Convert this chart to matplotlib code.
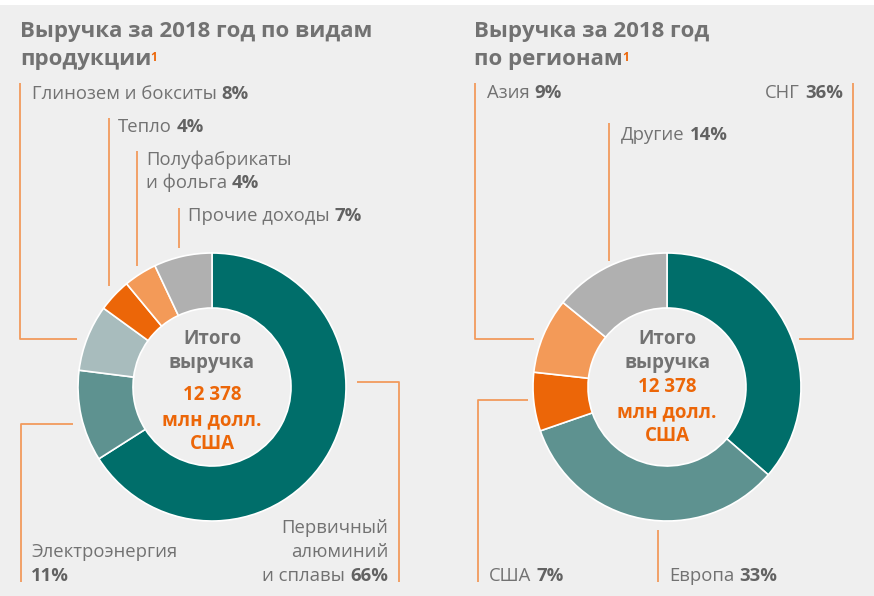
import matplotlib.pyplot as plt
from matplotlib.patches import Rectangle

plt.rcParams['font.family'] = ['Open Sans', 'DejaVu Sans']

# --- data ---
product_labels = ['Первичный алюминий и сплавы', 'Электроэнергия', 'Глинозем и бокситы',
                  'Тепло', 'Полуфабрикаты и фольга', 'Прочие доходы']
product_share = [66, 11, 8, 4, 4, 7]
region_labels = ['СНГ', 'Европа', 'США', 'Азия', 'Другие']
region_share = [36, 33, 7, 9, 14]
total_revenue = '12 378'

product_colors = ['#006e6a', '#5e9290', '#a8bcbd', '#ec6608', '#f39a58', '#b0b0b0']
region_colors = ['#006e6a', '#5e9290', '#ec6608', '#f39a58', '#b0b0b0']

BG = '#efefef'
GRAY = '#727272'
DARK = '#626262'
ORANGE = '#ec6608'
LINE = '#f29a5c'
FS = 13.3

W, H = 874, 596
fig = plt.figure(figsize=(W / 100, H / 100), dpi=100)
fig.patch.set_facecolor(BG)
fig.patches.append(Rectangle((0, 1 - 5 / H), 1, 5 / H, transform=fig.transFigure,
                             facecolor='white', edgecolor='none'))

R_OUT, R_IN = 134, 79


def donut(cx, cy, values, colors):
    ax = fig.add_axes([(cx - R_OUT) / W, (H - cy - R_OUT) / H, 2 * R_OUT / W, 2 * R_OUT / H])
    ax.pie(values, colors=colors, startangle=90, counterclock=False, radius=1,
           wedgeprops=dict(width=1 - R_IN / R_OUT, edgecolor='white', linewidth=1.2))
    ax.set_xlim(-1, 1)
    ax.set_ylim(-1, 1)
    ax.set_aspect('equal')
    ax.axis('off')
    return ax


donut(212, 387, product_share, product_colors)
donut(667, 387, region_share, region_colors)

# overlay in pixel coords
ov = fig.add_axes([0, 0, 1, 1])
ov.set_xlim(0, W)
ov.set_ylim(H, 0)
ov.axis('off')
ov.patch.set_alpha(0)


def label(x, y, name, pct, ha='left', size=FS):
    # name in regular, percent in bold
    if ha == 'left':
        t = ov.text(x, y, name, ha='left', va='center', fontsize=size, color=GRAY)
        ov.annotate(pct, xy=(1, 0), xycoords=t, xytext=(3.5, 0), textcoords='offset points',
                    ha='left', va='bottom', fontsize=size, color=DARK, fontweight='bold')
    else:
        t = ov.text(x, y, pct, ha='right', va='center', fontsize=size, color=DARK,
                    fontweight='bold')
        ov.annotate(name, xy=(0, 0), xycoords=t, xytext=(-3.5, 0), textcoords='offset points',
                    ha='right', va='bottom', fontsize=size, color=GRAY)


def leader(xs, ys):
    ov.plot(xs, ys, color=LINE, lw=1.3, solid_capstyle='butt')


def title(x, y1, y2, line1, line2):
    ov.text(x, y1, line1, ha='left', va='center', fontsize=16, fontweight='bold', color=GRAY)
    t = ov.text(x, y2, line2, ha='left', va='center', fontsize=16, fontweight='bold', color=GRAY)
    ov.annotate('1', xy=(1, 1), xycoords=t, xytext=(-0.5, -1.5), textcoords='offset points',
                ha='left', va='top', fontsize=8.5, fontweight='bold', color=ORANGE)


def center(cx, ys):
    lines = ['Итого', 'выручка', total_revenue, 'млн долл.', 'США']
    colors = [GRAY, GRAY, ORANGE, ORANGE, ORANGE]
    for s, y, c in zip(lines, ys, colors):
        ov.text(cx, y, s, ha='center', va='center', fontsize=13.5, fontweight='bold', color=c)


# ---- left chart ----
title(20, 31, 59, 'Выручка за 2018 год по видам', 'продукции')
center(212, [339, 363, 395, 420, 444])

leader([20, 20, 77], [83, 339, 339])
label(32, 94, product_labels[2], f'{product_share[2]}%')
leader([109, 109], [118, 286])
label(118, 127, product_labels[3], f'{product_share[3]}%')
leader([137, 137], [151, 266])
ov.text(146, 160, 'Полуфабрикаты', ha='left', va='center', fontsize=FS, color=GRAY)
label(146, 183, 'и фольга', f'{product_share[4]}%')
leader([179, 179], [208, 248])
label(188, 216, product_labels[5], f'{product_share[5]}%')

leader([73, 21, 21], [424, 424, 582])
ov.text(31, 552, product_labels[1], ha='left', va='center', fontsize=FS, color=GRAY)
ov.text(31, 576, f'{product_share[1]}%', ha='left', va='center', fontsize=FS,
        fontweight='bold', color=DARK)

leader([357, 399, 399], [382, 382, 582])
ov.text(388, 528, 'Первичный', ha='right', va='center', fontsize=FS, color=GRAY)
ov.text(388, 552, 'алюминий', ha='right', va='center', fontsize=FS, color=GRAY)
label(388, 576, 'и сплавы', f'{product_share[0]}%', ha='right')

# ---- right chart ----
title(474, 31, 59, 'Выручка за 2018 год', 'по регионам')
center(667, [339, 363, 387, 412, 436])

leader([475, 475, 534], [83, 339, 339])
label(487, 93, region_labels[3], f'{region_share[3]}%')
leader([853, 853, 799], [83, 339, 339])
label(843, 93, region_labels[0], f'{region_share[0]}%', ha='right')
leader([609, 609], [123, 261])
label(621, 135, region_labels[4], f'{region_share[4]}%')
leader([528, 478, 478], [400, 400, 582])
label(489, 576, region_labels[2], f'{region_share[2]}%')
leader([658, 658], [530, 582])
label(669, 576, region_labels[1], f'{region_share[1]}%')

fig.savefig('out.png', dpi=100, facecolor=fig.get_facecolor())
